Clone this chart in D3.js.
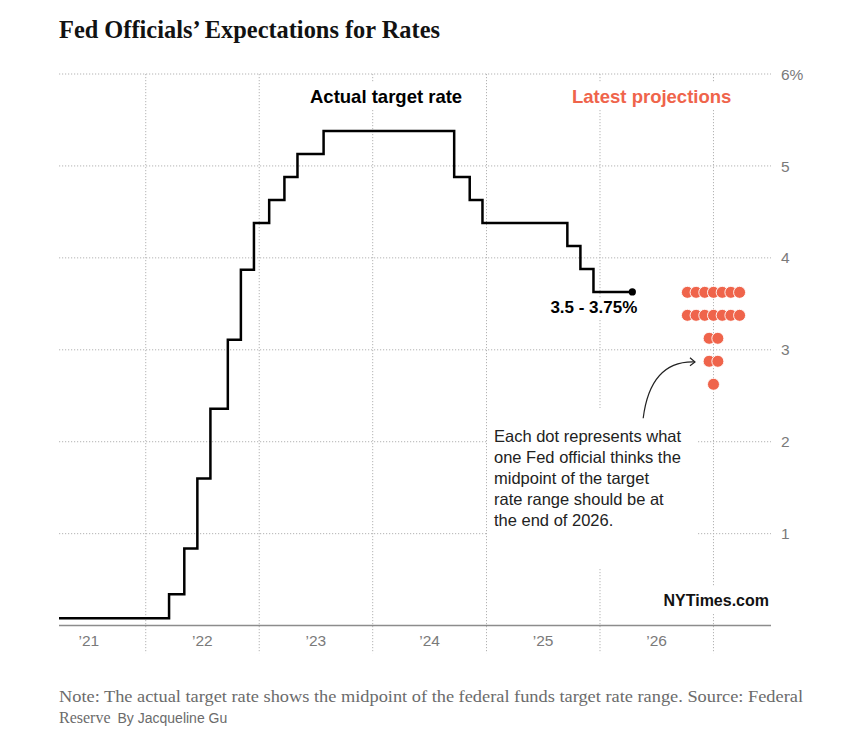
<!DOCTYPE html>
<html><head><meta charset="utf-8">
<script src="https://cdn.jsdelivr.net/npm/d3@7"></script>
<style>
body{margin:0;background:#fff;}
svg{display:block;}
</style></head><body>
<svg id="chart" width="847" height="748"></svg>
<script>
// ---- data ----
const rateDates = ["2021-03-28","2022-03-17","2022-05-05","2022-06-16","2022-07-28","2022-09-22","2022-11-03","2022-12-15","2023-02-02","2023-03-23","2023-05-04","2023-07-27","2024-09-19","2024-11-08","2024-12-19","2025-09-18","2025-10-30","2025-12-11","2026-04-15"];
const rateValues = [0.08,0.34,0.84,1.60,2.36,3.11,3.87,4.38,4.63,4.88,5.13,5.38,4.88,4.63,4.38,4.13,3.88,3.63,3.63];
const projectionLevels = [3.625,3.375,3.125,2.875,2.625];
const projectionCounts = [7,7,2,2,1];
const projectionDate = "2027-01-01";
const yTickValues = [1,2,3,4,5,6];
const yTickLabels = ["1","2","3","4","5","6%"];
const xGridDates = ["2022-01-01","2023-01-01","2024-01-01","2025-01-01","2026-01-01","2027-01-01"];
const xTickDates = ["2021-07-02","2022-07-02","2023-07-02","2024-07-02","2025-07-02","2026-07-02"];
const xTickLabels = ["\u201921","\u201922","\u201923","\u201924","\u201925","\u201926"];
const annotationLines = ["Each dot represents what","one Fed official thinks the","midpoint of the target","rate range should be at","the end of 2026."];
const endLabel = "3.5 - 3.75%";
const title = "Fed Officials\u2019 Expectations for Rates";
const noteLine1 = "Note: The actual target rate shows the midpoint of the federal funds target rate range.  Source: Federal";
const noteLine2a = "Reserve";
const noteLine2b = "By Jacqueline Gu";

// ---- styles ----
const SANS = "'Liberation Sans', Arial, sans-serif";
const SERIF = "'Liberation Serif', 'Times New Roman', serif";
const RED = "#ef644b";
const GRID = "#b3b3b3";
const TICK = "#7a7a7a";

const svg = d3.select("#chart");
const parse = d3.utcParse("%Y-%m-%d");

const x = d3.scaleUtc().domain([parse("2021-03-28"), parse("2027-07-05")]).range([59, 771]);
const y = d3.scaleLinear().domain([0, 6]).range([625.6, 74]);

// title
svg.append("text").attr("x", 59).attr("y", 37.7)
  .attr("font-family", SERIF).attr("font-weight", "bold").attr("font-size", 26)
  .attr("textLength", 381).attr("lengthAdjust", "spacingAndGlyphs")
  .attr("fill", "#121212").text(title);

// horizontal gridlines
svg.append("g").selectAll("line").data(yTickValues).join("line")
  .attr("x1", x.range()[0]).attr("x2", x.range()[1])
  .attr("y1", d => y(d)).attr("y2", d => y(d))
  .attr("stroke", GRID).attr("stroke-width", 1).attr("stroke-dasharray", "1.2,1.8");

// vertical gridlines
svg.append("g").selectAll("line").data(xGridDates).join("line")
  .attr("x1", d => x(parse(d))).attr("x2", d => x(parse(d)))
  .attr("y1", y(6)).attr("y2", y(0) + 27.5)
  .attr("stroke", GRID).attr("stroke-width", 1).attr("stroke-dasharray", "1.2,1.8");

// white backgrounds behind labels
const bgs = [
  [300, 82, 175, 28],
  [565, 82, 175, 28],
  [487, 408, 210, 160],
  [659, 586, 113, 27],
  [545, 299, 94, 19]
];
svg.append("g").selectAll("rect").data(bgs).join("rect")
  .attr("x", d => d[0]).attr("y", d => d[1]).attr("width", d => d[2]).attr("height", d => d[3])
  .attr("fill", "#fff");

// baseline axis
svg.append("line").attr("x1", x.range()[0]).attr("x2", x.range()[1])
  .attr("y1", y(0)).attr("y2", y(0)).attr("stroke", "#8c8c8c").attr("stroke-width", 1.5);

// y labels
svg.append("g").selectAll("text").data(yTickValues).join("text")
  .attr("x", 781).attr("y", d => y(d)).attr("dy", "0.36em")
  .attr("font-family", SANS).attr("font-size", 15.5).attr("fill", TICK)
  .text((d, i) => yTickLabels[i]);

// x labels
svg.append("g").selectAll("text").data(xTickDates).join("text")
  .attr("x", d => x(parse(d))).attr("y", 646).attr("text-anchor", "middle")
  .attr("font-family", SANS).attr("font-size", 15.5).attr("fill", TICK)
  .text((d, i) => xTickLabels[i]);

// step line
const rateData = rateDates.map((d, i) => ({date: parse(d), value: rateValues[i]}));
const line = d3.line().x(d => x(d.date)).y(d => y(d.value)).curve(d3.curveStepAfter);
svg.append("path").datum(rateData).attr("d", line)
  .attr("fill", "none").attr("stroke", "#000").attr("stroke-width", 2.5).attr("stroke-linejoin", "miter");

const last = rateData[rateData.length - 1];
svg.append("circle").attr("cx", x(last.date)).attr("cy", y(last.value)).attr("r", 3.6).attr("fill", "#000");

svg.append("text").attr("x", x(last.date) + 5).attr("y", y(last.value) + 21.5)
  .attr("text-anchor", "end").attr("font-family", SANS).attr("font-weight", "bold")
  .attr("font-size", 17).attr("fill", "#000").text(endLabel);

// projection dots
const px = x(parse(projectionDate));
const dotSpacing = 8.7;
const dots = [];
projectionLevels.forEach((lv, r) => {
  const n = projectionCounts[r];
  for (let i = 0; i < n; i++) dots.push({cx: px + (i - (n - 1) / 2) * dotSpacing, value: lv});
});
svg.append("g").selectAll("circle").data(dots).join("circle")
  .attr("cx", d => d.cx).attr("cy", d => y(d.value)).attr("r", 6)
  .attr("fill", RED).attr("stroke", "#fff").attr("stroke-width", 0.9);

// series labels
svg.append("text").attr("x", 310).attr("y", 102.5)
  .attr("font-family", SANS).attr("font-weight", "bold").attr("font-size", 18.5)
  .attr("fill", "#000").text("Actual target rate");
svg.append("text").attr("x", 572).attr("y", 102.5)
  .attr("font-family", SANS).attr("font-weight", "bold").attr("font-size", 18.5)
  .attr("fill", RED).text("Latest projections");

// annotation
svg.append("g").selectAll("text").data(annotationLines).join("text")
  .attr("x", 494).attr("y", (d, i) => 442.3 + i * 21)
  .attr("font-family", SANS).attr("font-size", 16.5).attr("fill", "#222")
  .text(d => d);

// arrow
const ay = y(2.875);
const ax = px - 18.5;
svg.append("path")
  .attr("d", `M${ax - 51.8},${ay + 57} Q${ax - 44.5},${ay - 1} ${ax},${ay + 0.7}`)
  .attr("fill", "none").attr("stroke", "#222").attr("stroke-width", 1.2);
svg.append("path")
  .attr("d", `M${ax - 5},${ay - 3.5} L${ax},${ay + 0.7} L${ax - 5},${ay + 4.5}`)
  .attr("fill", "none").attr("stroke", "#222").attr("stroke-width", 1.2);

// credit
svg.append("text").attr("x", 769).attr("y", 606)
  .attr("text-anchor", "end").attr("font-family", SANS).attr("font-weight", "bold")
  .attr("font-size", 16).attr("fill", "#121212").text("NYTimes.com");

// footer
svg.append("text").attr("x", 59).attr("y", 702)
  .attr("font-family", SERIF).attr("font-size", 16).attr("fill", "#6b6b6b")
  .attr("textLength", 744).attr("lengthAdjust", "spacingAndGlyphs")
  .text(noteLine1);
const f2 = svg.append("text").attr("x", 59).attr("y", 723)
  .attr("font-family", SERIF).attr("font-size", 16).attr("fill", "#6b6b6b");
f2.append("tspan").text(noteLine2a);
f2.append("tspan").attr("dx", 7).attr("font-family", SANS).attr("font-size", 14).text(noteLine2b);
</script>
</body></html>
